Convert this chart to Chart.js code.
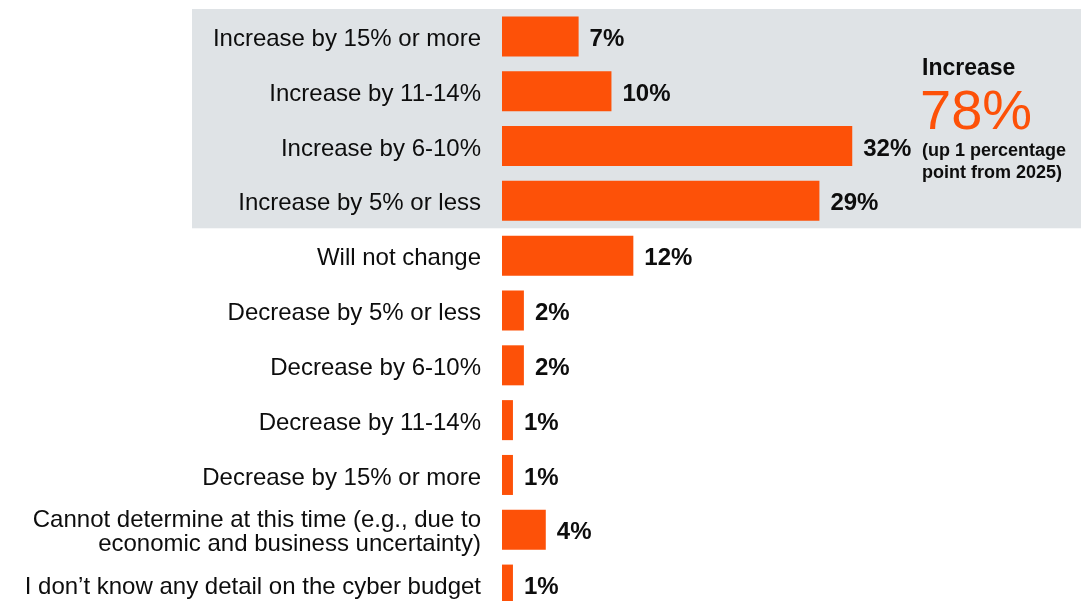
<!DOCTYPE html>
<html>
<head>
<meta charset="utf-8">
<script src="https://cdn.jsdelivr.net/npm/chart.js@4.4.1/dist/chart.umd.min.js"></script>
<style>
  html, body { margin: 0; padding: 0; background: #fff; overflow: hidden; }
  #wrap { width: 1081px; height: 601px; overflow: hidden; position: relative; }
</style>
</head>
<body>
<div id="wrap">
  <canvas id="budgetChart" width="1081" height="612"></canvas>
</div>
<script>
// Data
const categories = [
    'Increase by 15% or more',
    'Increase by 11-14%',
    'Increase by 6-10%',
    'Increase by 5% or less',
    'Will not change',
    'Decrease by 5% or less',
    'Decrease by 6-10%',
    'Decrease by 11-14%',
    'Decrease by 15% or more',
    ['Cannot determine at this time (e.g., due to', 'economic and business uncertainty)'],
    'I don\u2019t know any detail on the cyber budget'
];
const values = [7, 10, 32, 29, 12, 2, 2, 1, 1, 4, 1];
const increaseCount = 4;           // first four rows are shaded
const totalIncrease = '78%';
const totalNote = ['(up 1 percentage', 'point from 2025)'];

const ORANGE = '#FD5108';
const SHADE = '#DFE3E6';
const FONT = '"Liberation Sans", Arial, Helvetica, sans-serif';

// shaded band behind the "increase" rows
const shadePlugin = {
    id: 'shade',
    beforeDraw(chart) {
        const ctx = chart.ctx;
        const y = chart.scales.y;
        const half = (y.getPixelForValue(1) - y.getPixelForValue(0)) / 2;
        const top = y.getPixelForValue(0) - half;
        const bottom = y.getPixelForValue(increaseCount - 1) + half;
        ctx.save();
        ctx.fillStyle = SHADE;
        ctx.fillRect(192, top, chart.width - 192, bottom - top);
        ctx.restore();
    }
};

// value labels + summary text
const labelPlugin = {
    id: 'valueLabels',
    afterDatasetsDraw(chart) {
        const ctx = chart.ctx;
        const meta = chart.getDatasetMeta(0);
        ctx.save();
        ctx.fillStyle = '#0d0d0d';
        ctx.font = 'bold 24px ' + FONT;
        ctx.textBaseline = 'middle';
        ctx.textAlign = 'left';
        meta.data.forEach((bar, i) => {
            ctx.fillText(values[i] + '%', bar.x + 11, bar.y + 3);
        });

        // summary block
        ctx.textBaseline = 'alphabetic';
        ctx.font = 'bold 23px ' + FONT;
        ctx.fillText('Increase', 922, 75);
        ctx.fillStyle = ORANGE;
        ctx.font = '56px ' + FONT;
        ctx.fillText(totalIncrease, 920, 129);
        ctx.fillStyle = '#0d0d0d';
        ctx.font = 'bold 18px ' + FONT;
        ctx.fillText(totalNote[0], 922, 156);
        ctx.fillText(totalNote[1], 922, 178);
        ctx.restore();
    }
};

const ctx = document.getElementById('budgetChart').getContext('2d');
const budgetChart = new Chart(ctx, {
    type: 'bar',
    data: {
        labels: categories,
        datasets: [{
            data: values,
            backgroundColor: ORANGE,
            borderWidth: 0,
            barPercentage: 0.73,
            categoryPercentage: 1
        }]
    },
    options: {
        indexAxis: 'y',
        responsive: false,
        animation: false,
        layout: { padding: { top: 9, right: 0, bottom: 0, left: 0 } },
        plugins: {
            legend: { display: false },
            tooltip: { enabled: false }
        },
        scales: {
            x: {
                display: false,
                min: 0,
                max: 52.9
            },
            y: {
                grid: { display: false },
                border: { display: false },
                ticks: {
                    color: '#0d0d0d',
                    padding: 13,
                    labelOffset: 3,
                    font: { family: FONT, size: 24, lineHeight: 1.0 },
                    autoSkip: false
                },
                afterFit(scale) {
                    scale.width = 502;
                    scale.paddingTop = 0;
                    scale.paddingBottom = 0;
                }
            }
        }
    },
    plugins: [shadePlugin, labelPlugin]
});
</script>
</body>
</html>
